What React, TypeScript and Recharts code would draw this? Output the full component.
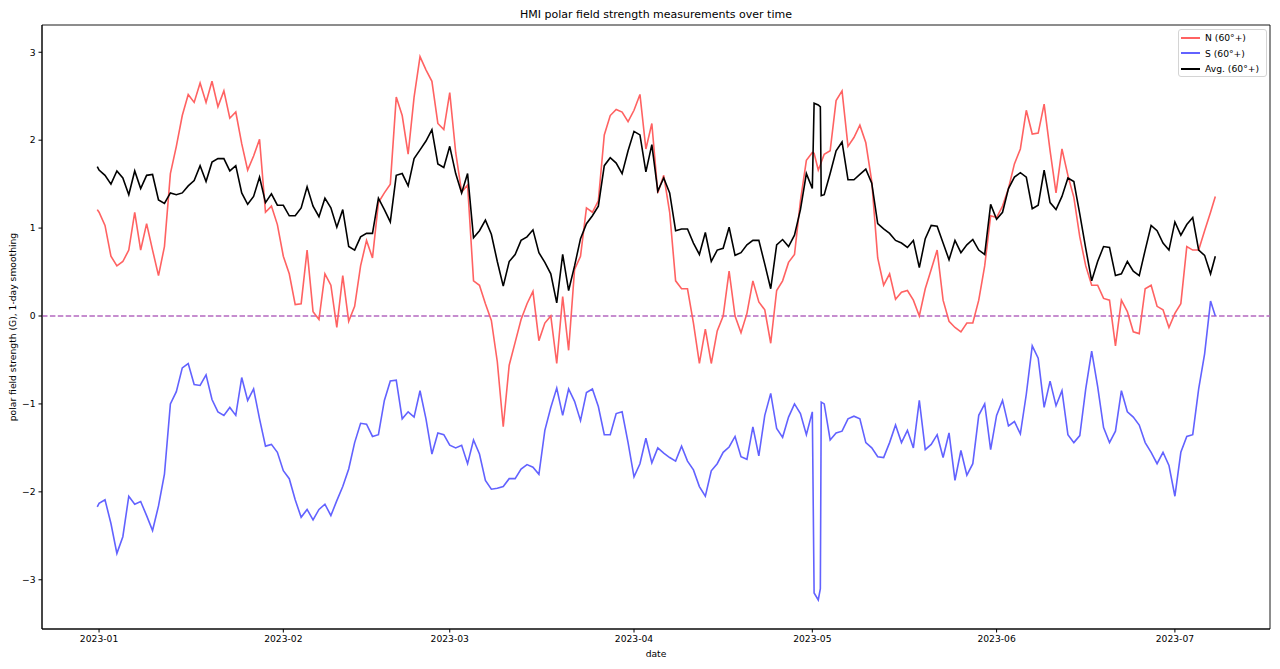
import { LineChart, Line, XAxis, YAxis, ReferenceLine, ReferenceArea } from 'recharts'

// days since 2023-01-01 (1-day smoothed samples)
const days = [
  -0.3, 0, 1, 2, 3, 4, 5, 6, 7, 8, 9, 10, 11, 12, 13, 14, 15, 16, 17, 18, 19, 20,
  21, 22, 23, 24, 25, 26, 27, 28, 29, 30, 31, 32, 33, 34, 35, 36, 37, 38, 39, 40,
  41, 42, 43, 44, 45, 46, 47, 48, 49, 50, 51, 52, 53, 54, 55, 56, 57, 58, 59, 60,
  61, 62, 63, 64, 65, 66, 67, 68, 69, 70, 71, 72, 73, 74, 75, 76, 77, 78, 79, 80,
  81, 82, 83, 84, 85, 86, 87, 88, 89, 90, 91, 92, 93, 94, 95, 96, 97, 98, 99, 100,
  101, 102, 103, 104, 105, 106, 107, 108, 109, 110, 111, 112, 113, 114, 115, 116, 117, 118, 119, 120,
  120.3, 121, 121.35, 121.5,
  122, 123, 124, 125, 126, 127, 128, 129, 130, 131, 132, 133, 134, 135, 136, 137, 138, 139, 140,
  141, 142, 143, 144, 145, 146, 147, 148, 149, 150, 151, 152, 153, 154, 155, 156, 157, 158, 159, 160,
  161, 162, 163, 164, 165, 166, 167, 168, 169, 170, 171, 172, 173, 174, 175, 176, 177, 178, 179, 180,
  181, 182, 183, 184, 185, 186, 187, 187.8,
]

const north = [
  1.21, 1.18, 1.03, 0.68, 0.57, 0.62, 0.75, 1.18, 0.75, 1.05, 0.75, 0.46, 0.79, 1.62, 1.93, 2.28, 2.52, 2.43, 2.65, 2.43, 2.67, 2.38,
  2.56, 2.25, 2.32, 1.96, 1.66, 1.82, 2.01, 1.18, 1.25, 1.04, 0.68, 0.48, 0.13, 0.14, 0.75, 0.05, -0.04, 0.48, 0.35, -0.13,
  0.46, -0.06, 0.11, 0.57, 0.86, 0.66, 1.29, 1.40, 1.50, 2.49, 2.28, 1.84, 2.49, 2.95, 2.80, 2.67, 2.19, 2.12, 2.54, 1.86,
  1.41, 1.49, 0.40, 0.35, 0.14, -0.05, -0.52, -1.26, -0.56, -0.30, -0.04, 0.14, 0.28, -0.28, -0.08, 0.00, -0.54, 0.22, -0.39, 0.53,
  0.68, 1.23, 1.18, 1.31, 2.06, 2.28, 2.35, 2.32, 2.21, 2.34, 2.52, 1.90, 2.19, 1.40, 1.60, 1.18, 0.40, 0.31, 0.31, -0.08,
  -0.54, -0.15, -0.54, -0.17, 0.00, 0.51, 0.00, -0.19, 0.03, 0.40, 0.16, 0.07, -0.31, 0.29, 0.40, 0.61, 0.70, 1.31, 1.77, 1.86,
  1.85, 1.66, 1.72, 1.75,
  1.84, 1.88, 2.45, 2.56, 1.93, 2.03, 2.17, 1.97, 1.53, 0.66, 0.35, 0.48, 0.19, 0.27, 0.29, 0.18, 0.00, 0.31, 0.53,
  0.75, 0.18, -0.06, -0.13, -0.18, -0.08, -0.08, 0.18, 0.57, 1.14, 1.12, 1.25, 1.45, 1.73, 1.90, 2.34, 2.07, 2.08, 2.41, 1.88,
  1.40, 1.90, 1.60, 1.35, 0.90, 0.57, 0.35, 0.35, 0.20, 0.18, -0.34, 0.18, 0.05, -0.18, -0.20, 0.31, 0.35, 0.11, 0.07, -0.13,
  0.03, 0.14, 0.79, 0.75, 0.75, 0.97, 1.18, 1.36,
]

const south = [
  -2.17, -2.13, -2.09, -2.36, -2.70, -2.51, -2.05, -2.14, -2.11, -2.27, -2.44, -2.16, -1.80, -1.00, -0.86, -0.59, -0.54, -0.78, -0.79, -0.67, -0.95, -1.09,
  -1.13, -1.04, -1.13, -0.70, -0.96, -0.83, -1.17, -1.48, -1.46, -1.55, -1.76, -1.85, -2.09, -2.29, -2.20, -2.32, -2.20, -2.14, -2.27, -2.10,
  -1.94, -1.74, -1.44, -1.22, -1.23, -1.37, -1.35, -0.96, -0.74, -0.73, -1.17, -1.09, -1.15, -0.85, -1.17, -1.57, -1.33, -1.35, -1.47, -1.50,
  -1.47, -1.68, -1.41, -1.57, -1.87, -1.97, -1.96, -1.94, -1.85, -1.85, -1.74, -1.69, -1.72, -1.80, -1.30, -1.04, -0.82, -1.13, -0.83, -0.97,
  -1.19, -0.87, -0.83, -1.03, -1.35, -1.35, -1.11, -1.09, -1.44, -1.83, -1.68, -1.39, -1.67, -1.50, -1.56, -1.61, -1.65, -1.48, -1.65, -1.75,
  -1.94, -2.05, -1.76, -1.68, -1.55, -1.49, -1.37, -1.60, -1.63, -1.26, -1.59, -1.13, -0.88, -1.28, -1.38, -1.15, -1.00, -1.11, -1.35, -1.09,
  -3.15, -3.23, -3.10, -0.98,
  -1.00, -1.41, -1.33, -1.31, -1.17, -1.14, -1.17, -1.44, -1.50, -1.60, -1.61, -1.44, -1.24, -1.44, -1.30, -1.50, -0.96, -1.52, -1.46,
  -1.35, -1.61, -1.33, -1.87, -1.53, -1.81, -1.68, -1.13, -1.00, -1.52, -1.13, -0.96, -1.25, -1.20, -1.34, -0.89, -0.34, -0.48, -1.04, -0.74,
  -1.02, -0.85, -1.35, -1.44, -1.36, -0.83, -0.40, -0.80, -1.27, -1.44, -1.31, -0.85, -1.09, -1.15, -1.24, -1.44, -1.55, -1.68, -1.55, -1.70,
  -2.05, -1.55, -1.37, -1.35, -0.83, -0.43, 0.17, 0.00,
]

const average = [
  1.70, 1.66, 1.60, 1.50, 1.65, 1.57, 1.38, 1.65, 1.45, 1.60, 1.61, 1.32, 1.28, 1.40, 1.38, 1.40, 1.48, 1.54, 1.71, 1.53, 1.75, 1.79,
  1.79, 1.65, 1.71, 1.40, 1.27, 1.36, 1.58, 1.29, 1.39, 1.26, 1.26, 1.14, 1.14, 1.23, 1.47, 1.25, 1.13, 1.34, 1.23, 1.01,
  1.21, 0.79, 0.75, 0.90, 0.94, 0.94, 1.34, 1.21, 1.07, 1.60, 1.62, 1.48, 1.79, 1.89, 1.99, 2.12, 1.73, 1.69, 1.93, 1.62,
  1.40, 1.62, 0.89, 0.97, 1.09, 0.93, 0.62, 0.34, 0.62, 0.70, 0.86, 0.90, 0.98, 0.72, 0.61, 0.48, 0.15, 0.70, 0.29, 0.57,
  0.88, 1.05, 1.14, 1.25, 1.71, 1.80, 1.74, 1.62, 1.88, 2.10, 2.06, 1.64, 1.95, 1.42, 1.57, 1.40, 0.97, 0.99, 0.99, 0.83,
  0.70, 0.95, 0.62, 0.75, 0.77, 1.01, 0.69, 0.72, 0.81, 0.86, 0.86, 0.59, 0.31, 0.81, 0.87, 0.79, 0.92, 1.21, 1.62, 1.45,
  2.42, 2.40, 2.38, 1.37,
  1.38, 1.62, 1.88, 1.98, 1.55, 1.55, 1.61, 1.67, 1.51, 1.05, 0.99, 0.94, 0.86, 0.83, 0.78, 0.86, 0.55, 0.88, 1.03,
  1.02, 0.83, 0.64, 0.86, 0.72, 0.81, 0.87, 0.75, 0.70, 1.27, 1.10, 1.18, 1.45, 1.58, 1.63, 1.58, 1.22, 1.26, 1.66, 1.29,
  1.21, 1.36, 1.57, 1.53, 1.16, 0.77, 0.40, 0.62, 0.79, 0.78, 0.46, 0.48, 0.62, 0.51, 0.46, 0.75, 1.03, 0.97, 0.83, 0.75,
  1.07, 0.92, 1.04, 1.12, 0.75, 0.69, 0.48, 0.68,
]

const monthTicks = [0, 31, 59, 90, 120, 151, 181]
const monthLabels = ['2023-01', '2023-02', '2023-03', '2023-04', '2023-05', '2023-06', '2023-07']
const fieldTicks = [-3, -2, -1, 0, 1, 2, 3]

const legendItems = [
  { label: 'N (60°+)', color: '#ff6262' },
  { label: 'S (60°+)', color: '#6262ff' },
  { label: 'Avg. (60°+)', color: '#000000' },
]

const data = days.map((day, i) => ({
  day,
  north: north[i],
  south: south[i],
  average: average[i],
}))

const xDomain: [number, number] = [-9.6, 197]
const yDomain: [number, number] = [-3.56, 3.31]
const font = '"DejaVu Sans", Verdana, sans-serif'
const tickStyle = { fontSize: 9.2, fill: '#000', fontFamily: font }

const fmtField = (v: number) => (v < 0 ? `\u2212${Math.abs(v)}` : `${v}`)

export default function App() {
  return (
    <div style={{ position: 'absolute', left: 0, top: 0, width: 1280, height: 669, background: '#fff', fontFamily: font, color: '#000' }}>
      <LineChart width={1280} height={669} data={data} margin={{ top: 25, right: 10, bottom: 0, left: 0 }}>
        <XAxis
          dataKey="day"
          type="number"
          domain={xDomain}
          allowDataOverflow
          ticks={monthTicks}
          interval={0}
          tickFormatter={(d: number) => monthLabels[monthTicks.indexOf(d)]}
          height={40}
          stroke="#000"
          tick={tickStyle}
          tickSize={3.5}
          tickMargin={2.5}
        />
        <YAxis
          type="number"
          domain={yDomain}
          allowDataOverflow
          ticks={fieldTicks}
          interval={0}
          tickFormatter={fmtField}
          width={42}
          stroke="#000"
          tick={tickStyle}
          tickSize={3.5}
          tickMargin={3}
        />
        <ReferenceArea x1={xDomain[0]} x2={xDomain[1]} y1={yDomain[0]} y2={yDomain[1]} fill="none" stroke="#000" strokeWidth={0.9} ifOverflow="visible" />
        <ReferenceLine y={0} stroke="#b468c0" strokeDasharray="5.5 2.4" strokeWidth={1.4} />
        <Line type="linear" dataKey="north" stroke="#ff6262" strokeWidth={1.6} dot={false} isAnimationActive={false} />
        <Line type="linear" dataKey="south" stroke="#6262ff" strokeWidth={1.6} dot={false} isAnimationActive={false} />
        <Line type="linear" dataKey="average" stroke="#000" strokeWidth={1.6} dot={false} isAnimationActive={false} />
      </LineChart>

      <div style={{ position: 'absolute', left: 42, top: 9, width: 1228, textAlign: 'center', fontSize: 11, lineHeight: '12px' }}>
        HMI polar field strength measurements over time
      </div>
      <div style={{ position: 'absolute', left: 42, top: 648, width: 1228, textAlign: 'center', fontSize: 9.2, lineHeight: '11px' }}>
        date
      </div>
      <div
        style={{
          position: 'absolute',
          left: 12,
          top: 327,
          fontSize: 9.2,
          lineHeight: '11px',
          whiteSpace: 'nowrap',
          transform: 'translate(-50%, -50%) rotate(-90deg)',
        }}
      >
        polar field strength (G), 1-day smoothing
      </div>

      <div
        style={{
          position: 'absolute',
          left: 1178,
          top: 29,
          width: 89,
          height: 48,
          boxSizing: 'border-box',
          border: '1px solid #d4d4d4',
          borderRadius: 3,
          background: 'rgba(255,255,255,0.85)',
        }}
      >
        {legendItems.map((item, i) => (
          <div key={item.label} style={{ position: 'absolute', left: 2, top: 1 + i * 15.5, height: 13, display: 'flex', alignItems: 'center' }}>
            <div style={{ width: 19, height: 2, background: item.color, marginRight: 5 }} />
            <span style={{ fontSize: 9.2, whiteSpace: 'nowrap' }}>{item.label}</span>
          </div>
        ))}
      </div>
    </div>
  )
}
